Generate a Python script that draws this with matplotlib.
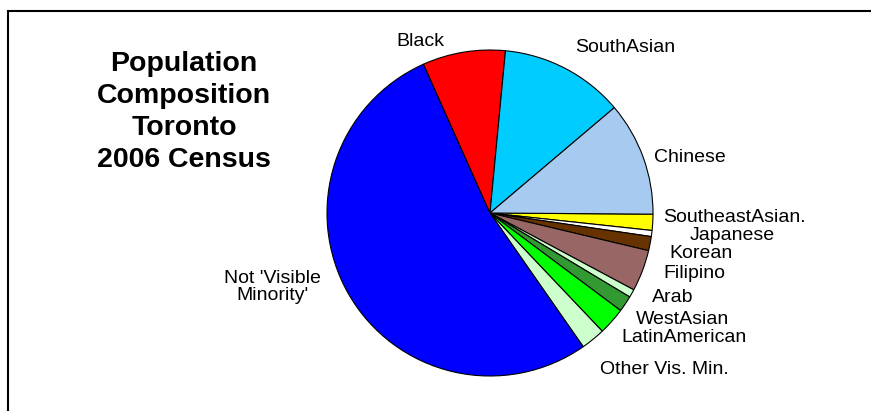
import matplotlib
matplotlib.use("Agg")
import matplotlib.pyplot as plt
from matplotlib.patches import Rectangle

plt.rcParams['font.family'] = ['Liberation Sans', 'DejaVu Sans']

# Visible minority groups, City of Toronto, 2006 census (percent of population)
groups = ["SoutheastAsian.", "Japanese", "Korean", "Filipino", "Arab",
          "WestAsian", "LatinAmerican", "Other Vis. Min.",
          "Not 'Visible\nMinority'", "Black", "SouthAsian", "Chinese"]
shares = [1.6, 0.6, 1.4, 4.1, 0.8, 1.6, 2.7, 2.4, 53.0, 8.2, 12.3, 11.3]
colors = ["#FFFF00", "#FFFFFF", "#663300", "#996666", "#CCFFCC",
          "#339933", "#00FF00", "#CCFFCC", "#0000FF", "#FF0000",
          "#00CCFF", "#A6CAF0"]

# label anchor points in figure pixels (x from left, y from top)
label_xy = [(663, 217, 'left'), (732, 235, 'center'), (701, 253, 'center'),
            (694, 274, 'center'), (673, 297, 'center'), (683, 319, 'center'),
            (684, 337, 'center'), (664, 369, 'center'), (272, 287, 'center'),
            (420, 42, 'center'), (625, 47, 'center'), (690, 157, 'center')]

W, H = 871, 411
fig = plt.figure(figsize=(W / 100, H / 100), dpi=100)
fig.patch.set_facecolor("white")

cx, cy, r = 490, 213, 163
ax = fig.add_axes([(cx - r) / W, (H - cy - r) / H, 2 * r / W, 2 * r / H])
ax.pie(shares, colors=colors, startangle=-0.4, counterclock=False,
       wedgeprops=dict(edgecolor="black", linewidth=0.8))
ax.set_xlim(-1, 1)
ax.set_ylim(-1, 1)
ax.set_aspect("equal")
ax.axis("off")

for name, (x, y, ha) in zip(groups, label_xy):
    fig.text(x / W, 1 - y / H, name, ha=ha, va="center", fontsize=14,
             color="black", linespacing=1.05)

title_lines = ["Population", "Composition", "Toronto", "2006 Census"]
for i, line in enumerate(title_lines):
    fig.text(184 / W, 1 - (64 + 32 * i) / H, line, ha="center", va="center",
             fontsize=20.5, fontweight="bold", color="black")

# chart area frame
fig.add_artist(Rectangle((8 / W, -0.1), 1.2, 1 - 11 / H + 0.1,
                         transform=fig.transFigure, fill=False,
                         edgecolor="black", linewidth=1.5))

fig.savefig("out.png", dpi=100, facecolor="white")
